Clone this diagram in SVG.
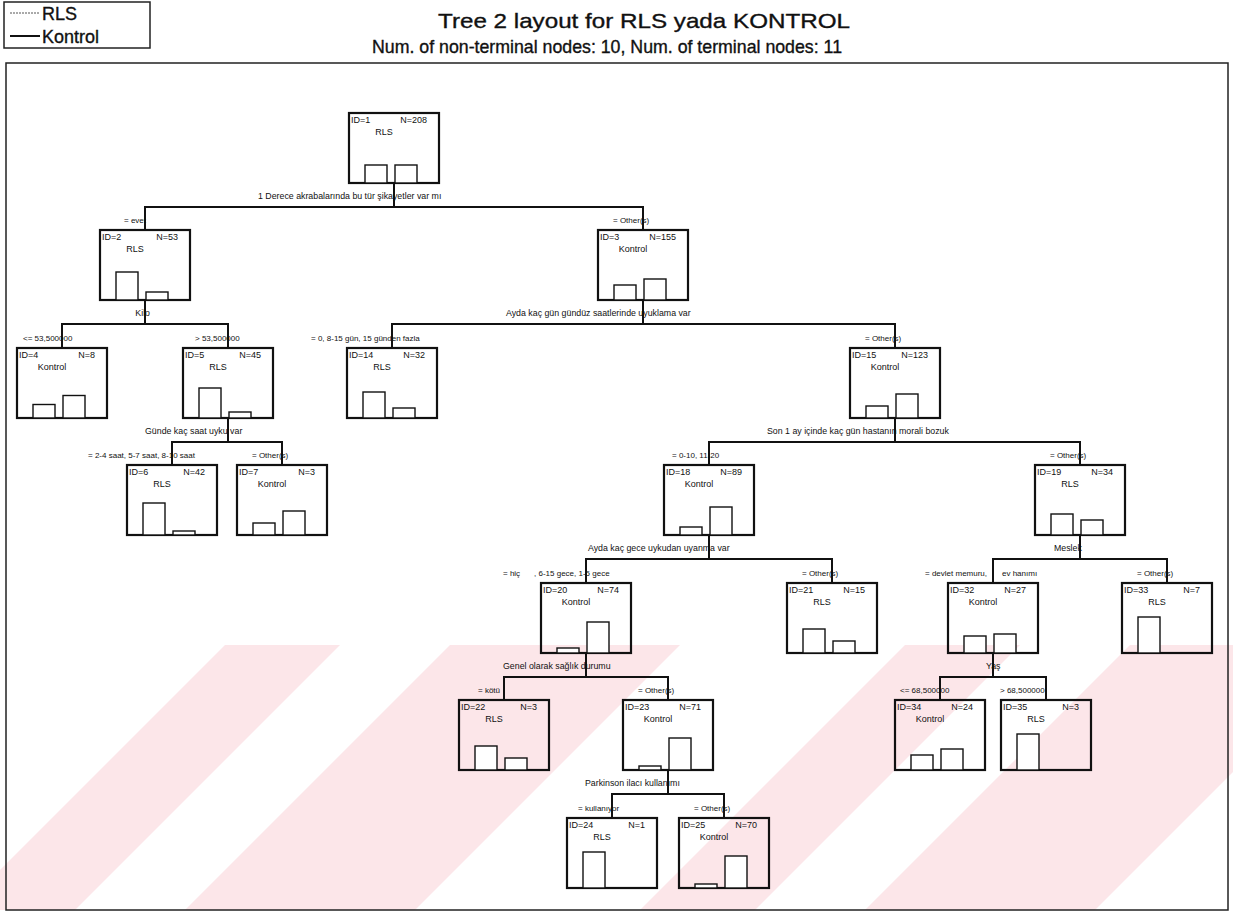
<svg xmlns="http://www.w3.org/2000/svg" width="1233" height="914" viewBox="0 0 1233 914">
  <style>
    .box { fill: none; stroke: #111; stroke-width: 2.2; }
    .bar { fill: #fff; stroke: #111; stroke-width: 1.4; }
    .nt { font-family: "Liberation Sans", Arial, sans-serif; font-size: 9px; fill: #111; }
    .lbl { font-family: "Liberation Sans", Arial, sans-serif; font-size: 8px; fill: #111; }
    .split { font-size: 8.8px; }
    .conn { fill: none; stroke: #111; stroke-width: 2; }
    .head { font-family: "Liberation Sans", Arial, sans-serif; fill: #111; stroke: #111; stroke-width: 0.35; }
    .wm { fill: #fce6e9; }
  </style>
  <defs>
    <clipPath id="wmclip"><rect x="0" y="645" width="1233" height="269"/></clipPath>
  </defs>

  <rect width="1233" height="914" fill="#fff"/>

  <!-- pale diagonal watermark bands, wide and narrow -->
  <g id="watermark" clip-path="url(#wmclip)">
    <polygon class="wm" points="225,645 340,645 75,910 -40,910"/>
    <polygon class="wm" points="450,645 680,645 415,910 185,910"/>
    <polygon class="wm" points="905,645 1020,645 755,910 640,910"/>
    <polygon class="wm" points="1130,645 1360,645 1095,910 865,910"/>
    <polygon class="wm" points="1585,645 1700,645 1435,910 1320,910"/>
  </g>

  <!-- legend -->
  <g id="legend">
    <rect x="4" y="2" width="146" height="46" fill="none" stroke="#222" stroke-width="1.5"/>
    <line x1="10" y1="13" x2="40" y2="13" stroke="#555" stroke-width="1" stroke-dasharray="2,1"/>
    <text class="head" x="42" y="20" font-size="18">RLS</text>
    <line x1="10" y1="36" x2="40" y2="36" stroke="#111" stroke-width="2"/>
    <text class="head" x="42" y="43" font-size="18">Kontrol</text>
  </g>

  <!-- titles -->
  <text class="head" x="438" y="28" font-size="21" textLength="412" lengthAdjust="spacingAndGlyphs">Tree 2 layout for RLS yada KONTROL</text>
  <text class="head" x="372" y="53" font-size="18.5" textLength="470" lengthAdjust="spacingAndGlyphs">Num. of non-terminal nodes: 10,  Num. of terminal nodes: 11</text>

  <!-- plot frame -->
  <rect x="6" y="63" width="1222" height="847" fill="none" stroke="#222" stroke-width="1.5"/>

  <!-- connectors -->
  <g id="connectors" class="conn">
    <path d="M394,183 V207 M145,230 V207 H643 V230"/>
    <path d="M145,300 V324 M62,348 V324 H228 V348"/>
    <path d="M643,300 V324 M392,348 V324 H895 V348"/>
    <path d="M228,418 V442 M172,465 V442 H282 V465"/>
    <path d="M895,418 V442 M709,465 V442 H1080 V465"/>
    <path d="M709,535 V559 M586,583 V559 H832 V583"/>
    <path d="M1080,535 V559 M993,583 V559 H1167 V583"/>
    <path d="M586,653 V677 M504,700 V677 H668 V700"/>
    <path d="M993,653 V677 M940,700 V677 H1046 V700"/>
    <path d="M668,770 V794 M612,818 V794 H724 V818"/>
  </g>

  <!-- split and branch labels -->
  <g id="labels" class="lbl">
    <text class="split" x="258" y="199">1 Derece akrabalarında bu tür şikayetler var mı</text>
    <text x="124" y="223">= evet</text>
    <text x="613" y="223">= Other(s)</text>

    <text class="split" x="150" y="316" text-anchor="end">Kilo</text>
    <text class="split" x="506" y="316">Ayda kaç gün gündüz saatlerinde uyuklama var</text>
    <text x="23" y="341">&lt;= 53,500000</text>
    <text x="195" y="341">&gt; 53,500000</text>
    <text x="311" y="341">= 0, 8-15 gün, 15 günden fazla</text>
    <text x="865" y="341">= Other(s)</text>

    <text class="split" x="145" y="434">Günde kaç saat uyku var</text>
    <text class="split" x="767" y="434">Son 1 ay içinde kaç gün hastanın morali bozuk</text>
    <text x="88" y="458">= 2-4 saat, 5-7 saat, 8-10 saat</text>
    <text x="252" y="458">= Other(s)</text>
    <text x="672" y="458">= 0-10, 11-20</text>
    <text x="1050" y="458">= Other(s)</text>

    <text class="split" x="588" y="551">Ayda kaç gece uykudan uyanma var</text>
    <text class="split" x="1054" y="551">Meslek</text>
    <text x="503" y="576">= hiç</text>
    <text x="534" y="576">, 6-15 gece, 1-5 gece</text>
    <text x="802" y="576">= Other(s)</text>
    <text x="925" y="576">= devlet memuru,</text>
    <text x="1002" y="576">ev hanımı</text>
    <text x="1137" y="576">= Other(s)</text>

    <text class="split" x="503" y="669">Genel olarak sağlık durumu</text>
    <text class="split" x="986" y="669">Yaş</text>
    <text x="478" y="693">= kötü</text>
    <text x="638" y="693">= Other(s)</text>
    <text x="900" y="693">&lt;= 68,500000</text>
    <text x="1000" y="693">&gt; 68,500000</text>

    <text class="split" x="585" y="786">Parkinson ilacı kullanımı</text>
    <text x="578" y="811">= kullanıyor</text>
    <text x="694" y="811">= Other(s)</text>
  </g>

  <!-- nodes -->
  <g id="node1" transform="translate(349,113)">
    <rect class="box" width="90" height="70"/>
    <text class="nt" x="2" y="10">ID=1</text><text class="nt" x="78" y="10" text-anchor="end">N=208</text>
    <text class="nt" x="35" y="22" text-anchor="middle">RLS</text>
    <rect class="bar" x="16" y="52" width="22" height="18"/><rect class="bar" x="46" y="52" width="22" height="18"/>
  </g>
  <g id="node2" transform="translate(100,230)">
    <rect class="box" width="90" height="70"/>
    <text class="nt" x="2" y="10">ID=2</text><text class="nt" x="78" y="10" text-anchor="end">N=53</text>
    <text class="nt" x="35" y="22" text-anchor="middle">RLS</text>
    <rect class="bar" x="16" y="42" width="22" height="28"/><rect class="bar" x="46" y="62" width="22" height="8"/>
  </g>
  <g id="node3" transform="translate(598,230)">
    <rect class="box" width="90" height="70"/>
    <text class="nt" x="2" y="10">ID=3</text><text class="nt" x="78" y="10" text-anchor="end">N=155</text>
    <text class="nt" x="35" y="22" text-anchor="middle">Kontrol</text>
    <rect class="bar" x="16" y="55" width="22" height="15"/><rect class="bar" x="46" y="49" width="22" height="21"/>
  </g>
  <g id="node4" transform="translate(17,348)">
    <rect class="box" width="90" height="70"/>
    <text class="nt" x="2" y="10">ID=4</text><text class="nt" x="78" y="10" text-anchor="end">N=8</text>
    <text class="nt" x="35" y="22" text-anchor="middle">Kontrol</text>
    <rect class="bar" x="16" y="56.5" width="22" height="13.5"/><rect class="bar" x="46" y="47.5" width="22" height="22.5"/>
  </g>
  <g id="node5" transform="translate(183,348)">
    <rect class="box" width="90" height="70"/>
    <text class="nt" x="2" y="10">ID=5</text><text class="nt" x="78" y="10" text-anchor="end">N=45</text>
    <text class="nt" x="35" y="22" text-anchor="middle">RLS</text>
    <rect class="bar" x="16" y="40" width="22" height="30"/><rect class="bar" x="46" y="64" width="22" height="6"/>
  </g>
  <g id="node14" transform="translate(347,348)">
    <rect class="box" width="90" height="70"/>
    <text class="nt" x="2" y="10">ID=14</text><text class="nt" x="78" y="10" text-anchor="end">N=32</text>
    <text class="nt" x="35" y="22" text-anchor="middle">RLS</text>
    <rect class="bar" x="16" y="44" width="22" height="26"/><rect class="bar" x="46" y="60" width="22" height="10"/>
  </g>
  <g id="node15" transform="translate(850,348)">
    <rect class="box" width="90" height="70"/>
    <text class="nt" x="2" y="10">ID=15</text><text class="nt" x="78" y="10" text-anchor="end">N=123</text>
    <text class="nt" x="35" y="22" text-anchor="middle">Kontrol</text>
    <rect class="bar" x="16" y="58" width="22" height="12"/><rect class="bar" x="46" y="46" width="22" height="24"/>
  </g>
  <g id="node6" transform="translate(127,465)">
    <rect class="box" width="90" height="70"/>
    <text class="nt" x="2" y="10">ID=6</text><text class="nt" x="78" y="10" text-anchor="end">N=42</text>
    <text class="nt" x="35" y="22" text-anchor="middle">RLS</text>
    <rect class="bar" x="16" y="38" width="22" height="32"/><rect class="bar" x="46" y="66" width="22" height="4"/>
  </g>
  <g id="node7" transform="translate(237,465)">
    <rect class="box" width="90" height="70"/>
    <text class="nt" x="2" y="10">ID=7</text><text class="nt" x="78" y="10" text-anchor="end">N=3</text>
    <text class="nt" x="35" y="22" text-anchor="middle">Kontrol</text>
    <rect class="bar" x="16" y="58" width="22" height="12"/><rect class="bar" x="46" y="46" width="22" height="24"/>
  </g>
  <g id="node18" transform="translate(664,465)">
    <rect class="box" width="90" height="70"/>
    <text class="nt" x="2" y="10">ID=18</text><text class="nt" x="78" y="10" text-anchor="end">N=89</text>
    <text class="nt" x="35" y="22" text-anchor="middle">Kontrol</text>
    <rect class="bar" x="16" y="62" width="22" height="8"/><rect class="bar" x="46" y="42" width="22" height="28"/>
  </g>
  <g id="node19" transform="translate(1035,465)">
    <rect class="box" width="90" height="70"/>
    <text class="nt" x="2" y="10">ID=19</text><text class="nt" x="78" y="10" text-anchor="end">N=34</text>
    <text class="nt" x="35" y="22" text-anchor="middle">RLS</text>
    <rect class="bar" x="16" y="49" width="22" height="21"/><rect class="bar" x="46" y="55" width="22" height="15"/>
  </g>
  <g id="node20" transform="translate(541,583)">
    <rect class="box" width="90" height="70"/>
    <text class="nt" x="2" y="10">ID=20</text><text class="nt" x="78" y="10" text-anchor="end">N=74</text>
    <text class="nt" x="35" y="22" text-anchor="middle">Kontrol</text>
    <rect class="bar" x="16" y="65" width="22" height="5"/><rect class="bar" x="46" y="39" width="22" height="31"/>
  </g>
  <g id="node21" transform="translate(787,583)">
    <rect class="box" width="90" height="70"/>
    <text class="nt" x="2" y="10">ID=21</text><text class="nt" x="78" y="10" text-anchor="end">N=15</text>
    <text class="nt" x="35" y="22" text-anchor="middle">RLS</text>
    <rect class="bar" x="16" y="46" width="22" height="24"/><rect class="bar" x="46" y="58" width="22" height="12"/>
  </g>
  <g id="node32" transform="translate(948,583)">
    <rect class="box" width="90" height="70"/>
    <text class="nt" x="2" y="10">ID=32</text><text class="nt" x="78" y="10" text-anchor="end">N=27</text>
    <text class="nt" x="35" y="22" text-anchor="middle">Kontrol</text>
    <rect class="bar" x="16" y="53" width="22" height="17"/><rect class="bar" x="46" y="51" width="22" height="19"/>
  </g>
  <g id="node33" transform="translate(1122,583)">
    <rect class="box" width="90" height="70"/>
    <text class="nt" x="2" y="10">ID=33</text><text class="nt" x="78" y="10" text-anchor="end">N=7</text>
    <text class="nt" x="35" y="22" text-anchor="middle">RLS</text>
    <rect class="bar" x="16" y="34" width="22" height="36"/>
  </g>
  <g id="node22" transform="translate(459,700)">
    <rect class="box" width="90" height="70"/>
    <text class="nt" x="2" y="10">ID=22</text><text class="nt" x="78" y="10" text-anchor="end">N=3</text>
    <text class="nt" x="35" y="22" text-anchor="middle">RLS</text>
    <rect class="bar" x="16" y="46" width="22" height="24"/><rect class="bar" x="46" y="58" width="22" height="12"/>
  </g>
  <g id="node23" transform="translate(623,700)">
    <rect class="box" width="90" height="70"/>
    <text class="nt" x="2" y="10">ID=23</text><text class="nt" x="78" y="10" text-anchor="end">N=71</text>
    <text class="nt" x="35" y="22" text-anchor="middle">Kontrol</text>
    <rect class="bar" x="16" y="66" width="22" height="4"/><rect class="bar" x="46" y="38" width="22" height="32"/>
  </g>
  <g id="node34" transform="translate(895,700)">
    <rect class="box" width="90" height="70"/>
    <text class="nt" x="2" y="10">ID=34</text><text class="nt" x="78" y="10" text-anchor="end">N=24</text>
    <text class="nt" x="35" y="22" text-anchor="middle">Kontrol</text>
    <rect class="bar" x="16" y="55" width="22" height="15"/><rect class="bar" x="46" y="49" width="22" height="21"/>
  </g>
  <g id="node35" transform="translate(1001,700)">
    <rect class="box" width="90" height="70"/>
    <text class="nt" x="2" y="10">ID=35</text><text class="nt" x="78" y="10" text-anchor="end">N=3</text>
    <text class="nt" x="35" y="22" text-anchor="middle">RLS</text>
    <rect class="bar" x="16" y="34" width="22" height="36"/>
  </g>
  <g id="node24" transform="translate(567,818)">
    <rect class="box" width="90" height="70"/>
    <text class="nt" x="2" y="10">ID=24</text><text class="nt" x="78" y="10" text-anchor="end">N=1</text>
    <text class="nt" x="35" y="22" text-anchor="middle">RLS</text>
    <rect class="bar" x="16" y="34" width="22" height="36"/>
  </g>
  <g id="node25" transform="translate(679,818)">
    <rect class="box" width="90" height="70"/>
    <text class="nt" x="2" y="10">ID=25</text><text class="nt" x="78" y="10" text-anchor="end">N=70</text>
    <text class="nt" x="35" y="22" text-anchor="middle">Kontrol</text>
    <rect class="bar" x="16" y="66" width="22" height="4"/><rect class="bar" x="46" y="38" width="22" height="32"/>
  </g>
</svg>
